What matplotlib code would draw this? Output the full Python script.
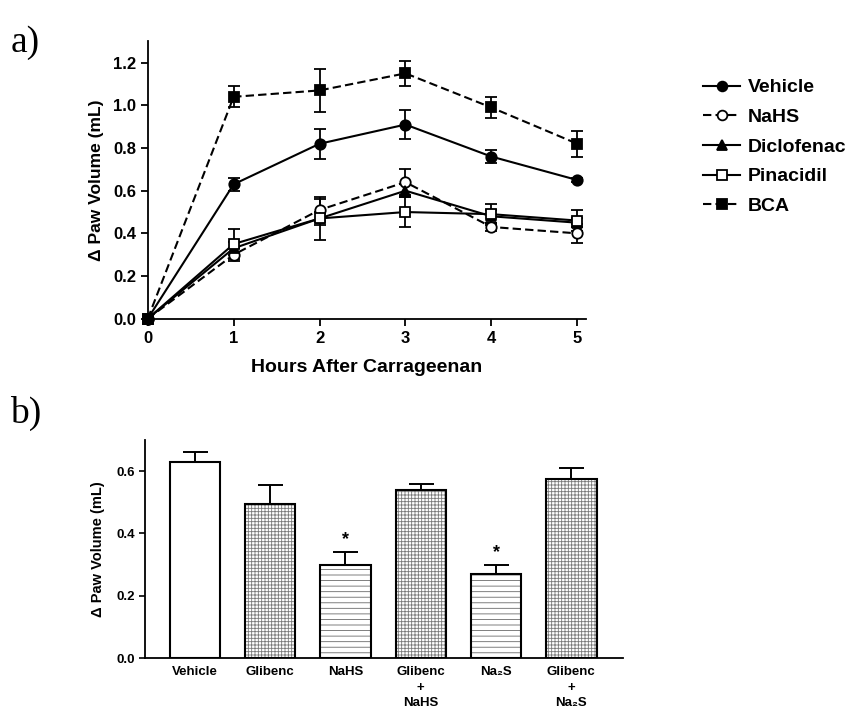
import numpy as np
import matplotlib
matplotlib.use("Agg")
import matplotlib.pyplot as plt
from matplotlib.lines import Line2D

plt.rcParams['font.family'] = ['Liberation Sans', 'DejaVu Sans']
plt.rcParams['font.weight'] = 'bold'
plt.rcParams['hatch.linewidth'] = 0.6

# panel a: time course
hours = [0, 1, 2, 3, 4, 5]
vehicle = [0, 0.63, 0.82, 0.91, 0.76, 0.65]
vehicle_err = [0, 0.03, 0.07, 0.07, 0.03, 0.01]
nahs = [0, 0.30, 0.51, 0.64, 0.43, 0.40]
nahs_err = [0, 0.03, 0.05, 0.06, 0.02, 0.045]
diclofenac = [0, 0.33, 0.47, 0.60, 0.48, 0.45]
diclofenac_err = [0, 0.03, 0.03, 0.03, 0.03, 0.02]
pinacidil = [0, 0.35, 0.47, 0.50, 0.49, 0.46]
pinacidil_err = [0, 0.07, 0.10, 0.07, 0.05, 0.05]
bca = [0, 1.04, 1.07, 1.15, 0.99, 0.82]
bca_err = [0, 0.05, 0.10, 0.06, 0.05, 0.06]

# panel b: bars
groups = ['Vehicle', 'Glibenc', 'NaHS', 'Glibenc\n+\nNaHS', 'Na₂S', 'Glibenc\n+\nNa₂S']
bar_vals = [0.63, 0.495, 0.30, 0.54, 0.27, 0.575]
bar_err = [0.03, 0.06, 0.04, 0.02, 0.03, 0.035]
signif = [False, False, True, False, True, False]

fig = plt.figure(figsize=(8.54, 7.13), dpi=100)

ax = fig.add_axes([0.173, 0.553, 0.513, 0.389])
series = [
    ('Vehicle', vehicle, vehicle_err, 'o', 'black', '-'),
    ('NaHS', nahs, nahs_err, 'o', 'white', (0, (4, 2))),
    ('Diclofenac', diclofenac, diclofenac_err, '^', 'black', '-'),
    ('Pinacidil', pinacidil, pinacidil_err, 's', 'white', '-'),
    ('BCA', bca, bca_err, 's', 'black', (0, (4, 2))),
]
handles = []
for name, vals, err, mk, fc, ls in series:
    ax.errorbar(hours, vals, yerr=err, color='black', lw=1.5, ls=ls,
                marker=mk, markersize=7.5, mfc=fc, mec='black', mew=1.3,
                capsize=4.5, elinewidth=1.3, capthick=1.3,
                clip_on=False, zorder=3)
    handles.append(Line2D([], [], color='black', lw=1.5, ls=ls, marker=mk,
                          markersize=7, mfc=fc, mec='black', mew=1.3, label=name))

ax.set_xlim(0, 5.1)
ax.set_ylim(0, 1.3)
ax.set_xticks(hours)
ax.set_yticks([0.0, 0.2, 0.4, 0.6, 0.8, 1.0, 1.2])
ax.set_yticklabels(['0.0', '0.2', '0.4', '0.6', '0.8', '1.0', '1.2'])
ax.spines['top'].set_visible(False)
ax.spines['right'].set_visible(False)
ax.spines['left'].set_linewidth(1.3)
ax.spines['bottom'].set_linewidth(1.3)
ax.tick_params(direction='out', length=5, width=1.3, labelsize=12)
ax.set_ylabel('Δ Paw Volume (mL)', fontsize=12.5, fontweight='bold', labelpad=6)
ax.set_xlabel('Hours After Carrageenan', fontsize=14, fontweight='bold', labelpad=10)

fig.legend(handles=handles, loc='center left', bbox_to_anchor=(0.812, 0.794),
           frameon=False, prop={'size': 14, 'weight': 'bold'}, handlelength=1.9,
           handletextpad=0.4, labelspacing=0.62, borderpad=0)

# panel b
bx = fig.add_axes([0.170, 0.077, 0.559, 0.306])
x = np.arange(len(groups))
hatches = ['', '+++++', '---', '+++++', '---', '+++++']
hatch_cols = ['white', '#7a7a7a', '#6a6a6a', '#7a7a7a', '#6a6a6a', '#7a7a7a']
for i in range(len(groups)):
    bx.bar(x[i], bar_vals[i], width=0.67, color='white', edgecolor=hatch_cols[i],
           lw=0, hatch=hatches[i], zorder=2)
    bx.bar(x[i], bar_vals[i], width=0.67, fill=False, edgecolor='black',
           lw=1.5, zorder=3)
    bx.errorbar(x[i], bar_vals[i], yerr=[[0], [bar_err[i]]], color='black',
                capsize=9, elinewidth=1.4, capthick=1.4, zorder=1)
    if signif[i]:
        bx.text(x[i], bar_vals[i] + bar_err[i] + 0.012, '*', ha='center',
                va='bottom', fontsize=13, fontweight='bold')

bx.set_xlim(-0.66, 5.68)
bx.set_ylim(0, 0.7)
bx.set_yticks([0.0, 0.2, 0.4, 0.6])
bx.set_yticklabels(['0.0', '0.2', '0.4', '0.6'])
bx.set_xticks(x)
bx.set_xticklabels(groups, fontsize=9.5, fontweight='bold', va='top',
                   linespacing=1.35)
bx.spines['top'].set_visible(False)
bx.spines['right'].set_visible(False)
bx.spines['left'].set_linewidth(1.3)
bx.spines['bottom'].set_linewidth(1.3)
bx.tick_params(axis='y', direction='out', length=4, width=1.2, labelsize=9.5)
bx.tick_params(axis='x', length=0, pad=6)
bx.set_ylabel('Δ Paw Volume (mL)', fontsize=10.5, fontweight='bold', labelpad=8)

fig.text(0.012, 0.965, 'a)', fontsize=27, family=['Liberation Serif', 'DejaVu Serif'],
         fontweight='normal', va='top')
fig.text(0.012, 0.445, 'b)', fontsize=27, family=['Liberation Serif', 'DejaVu Serif'],
         fontweight='normal', va='top')

fig.savefig('out.png', dpi=100, facecolor='white')
